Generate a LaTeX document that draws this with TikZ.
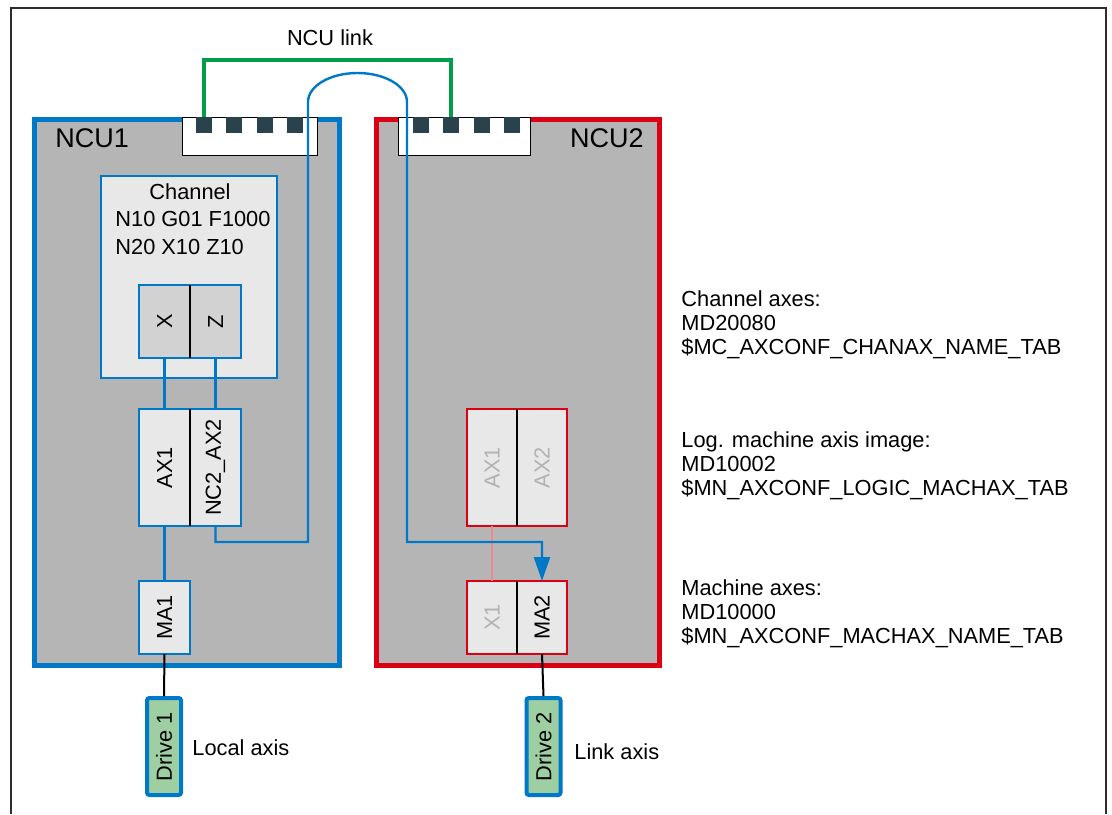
\documentclass[tikz,border=0pt]{standalone}
\usepackage{fontspec}
\setmainfont{Liberation Sans}
\usepackage{graphicx}
\usepackage{xcolor}
\usetikzlibrary{positioning, calc, arrows.meta}

\definecolor{ncublue}{RGB}{0,120,200}
\definecolor{ncured}{RGB}{220,0,20}
\definecolor{ncugray}{RGB}{181,181,181}
\definecolor{chanlight}{RGB}{232,232,232}
\definecolor{cellmid}{RGB}{210,210,210}
\definecolor{pindark}{RGB}{42,66,76}
\definecolor{linkgreen}{RGB}{0,158,72}
\definecolor{drivegreen}{RGB}{157,207,162}
\definecolor{fadedtext}{RGB}{178,178,178}
\definecolor{pinkline}{RGB}{240,135,145}
\definecolor{framegray}{RGB}{45,45,45}

\newcommand{\vtxt}[1]{\rotatebox{90}{#1}}

\begin{document}
\begin{tikzpicture}[x=0.5pt, y=-0.5pt, every node/.style={font=\fontsize{10.9}{12}\selectfont}]

        % Styles
        \tikzstyle{ncu} = [line width=2.5pt, fill=ncugray, inner sep=0pt, outer sep=0pt]
        \tikzstyle{portstrip} = [draw=black, line width=0.5pt, fill=white, minimum height=19pt, inner sep=0pt]
        \tikzstyle{portpin} = [fill=pindark, minimum size=8pt, inner sep=0pt]
        \tikzstyle{axcell} = [draw=ncublue, line width=0.7pt, fill=chanlight, minimum width=25.5pt, inner sep=0pt, outer sep=0pt]
        \tikzstyle{divider} = [black, line width=0.7pt]
        \tikzstyle{axline} = [ncublue, line width=1.1pt]
        \tikzstyle{drive} = [draw=ncublue, line width=2pt, rounded corners=1.2pt, fill=drivegreen, minimum width=17pt, minimum height=48.5pt, inner sep=0pt]
        \tikzstyle{cable} = [ncublue, line width=1.2pt]
        \tikzstyle{info} = [anchor=west, align=left, inner sep=0pt]
        \tikzstyle{ncutitle} = [inner sep=0pt, font=\fontsize{13.5}{15}\selectfont]

        \useasboundingbox (0,0) rectangle (1112,814);

        % Frame
        \draw[framegray, line width=1pt] (11,814) -- (11,8) -- (1106,8) -- (1106,814);

        % NCU boxes
        \node[ncu, draw=ncublue, minimum width=152.5pt, minimum height=273pt] (ncu1) at (186.5,392) {};
        \node[ncu, draw=ncured, minimum width=141.5pt, minimum height=273pt] (ncu2) at (518,392) {};
        \node[ncutitle, anchor=west] (ncu1lbl) at (55,138) {NCU1};
        \node[ncutitle, anchor=east] (ncu2lbl) at (644,138) {NCU2};

        % Link ports
        \node[portstrip, minimum width=67.5pt] (strip1) at (249.5,136) {};
        \node[portstrip, minimum width=66pt] (strip2) at (464,136) {};
        \foreach \i in {0,...,3} {
            \node[portpin] (pa\i) at ({204+30.3*\i},125) {};
            \node[portpin] (pb\i) at ({421+30.3*\i},125) {};
        }

        % NCU link
        \draw[linkgreen, line width=2pt] (pa0.north) -- ++(0,-57) -| (pb1.north);
        \node (linklbl) at (330,38) {NCU link};

        % Channel
        \node[draw=ncublue, line width=0.7pt, fill=chanlight, minimum width=88pt, minimum height=101pt, inner sep=0pt] (chan) at (189,277) {};
        \node (chantitle) at (190,192) {Channel};
        \node[anchor=west, align=left, inner sep=0pt, font=\fontsize{10.9}{14}\selectfont] (chancode) at (115,233) {N10 G01 F1000\\N20 X10 Z10};
        \node[axcell, fill=cellmid, minimum height=36.5pt] (chx) at (164.5,321.5) {\vtxt{X}};
        \node[axcell, fill=cellmid, minimum height=36.5pt] (chz) at (215.5,321.5) {\vtxt{Z}};
        \draw[divider] (chx.north east) -- (chx.south east);

        % NCU1 axes
        \node[axcell, minimum height=58.5pt] (ax1) at (164.5,467.5) {\vtxt{AX1}};
        \node[axcell, minimum height=58.5pt] (nc2ax2) at (215.5,467.5) {\vtxt{NC2\_AX2}};
        \draw[divider] (ax1.north east) -- (ax1.south east);
        \node[axcell, minimum height=36.5pt] (ma1) at (164.5,617.5) {\vtxt{MA1}};

        % NCU2 axes
        \node[axcell, draw=ncured, text=fadedtext, minimum width=25pt, minimum height=58.5pt] (lax1) at (492,467.5) {\vtxt{AX1}};
        \node[axcell, draw=ncured, text=fadedtext, minimum width=25pt, minimum height=58.5pt] (lax2) at (542,467.5) {\vtxt{AX2}};
        \draw[divider] (lax1.north east) -- (lax1.south east);
        \node[axcell, draw=ncured, text=fadedtext, minimum width=25pt, minimum height=36.5pt] (lx1) at (492,617.5) {\vtxt{X1}};
        \node[axcell, draw=ncured, minimum width=25pt, minimum height=36.5pt] (ma2) at (542,617.5) {\vtxt{MA2}};
        \draw[divider] (lx1.north east) -- (lx1.south east);

        % Connections
        \draw[axline] (chx.south) -- (ax1.north);
        \draw[axline] (chz.south) -- (nc2ax2.north);
        \draw[axline] (ax1.south) -- (ma1.north);
        \draw[pinkline, line width=0.8pt] (lax1.south) -- (lx1.north);

        % Cable
        \coordinate (bendL) at (308,542);
        \coordinate (loopL) at (308,102);
        \coordinate (bendR) at (407,542);
        \draw[cable, -{Triangle[length=12pt,width=8pt]}] (nc2ax2.south) |- (bendL) -- (loopL)
            arc[start angle=180, end angle=360, x radius=49.5, y radius=29] -- (bendR) -| (ma2.north);

        % Drives
        \node[drive] (drive1) at (164,746.5) {\vtxt{Drive 1}};
        \node[drive] (drive2) at (543.5,746.5) {\vtxt{Drive 2}};
        \draw[black, line width=1pt] (ma1.south) -- (drive1.north);
        \draw[black, line width=1pt] (ma2.south) -- (drive2.north);
        \node[anchor=west, inner sep=0pt] (locallbl) at (192,748) {Local axis};
        \node[anchor=west, inner sep=0pt] (linkaxlbl) at (574,752) {Link axis};

        % Machine data
        \node[info] (chaninfo) at (681,325) {Channel axes:\\MD20080\\\$MC\_AXCONF\_CHANAX\_NAME\_TAB};
        \node[info] (logicinfo) at (681,466) {Log. machine axis image:\\MD10002\\\$MN\_AXCONF\_LOGIC\_MACHAX\_TAB};
        \node[info] (machinfo) at (681,614) {Machine axes:\\MD10000\\\$MN\_AXCONF\_MACHAX\_NAME\_TAB};

\end{tikzpicture}
\end{document}
